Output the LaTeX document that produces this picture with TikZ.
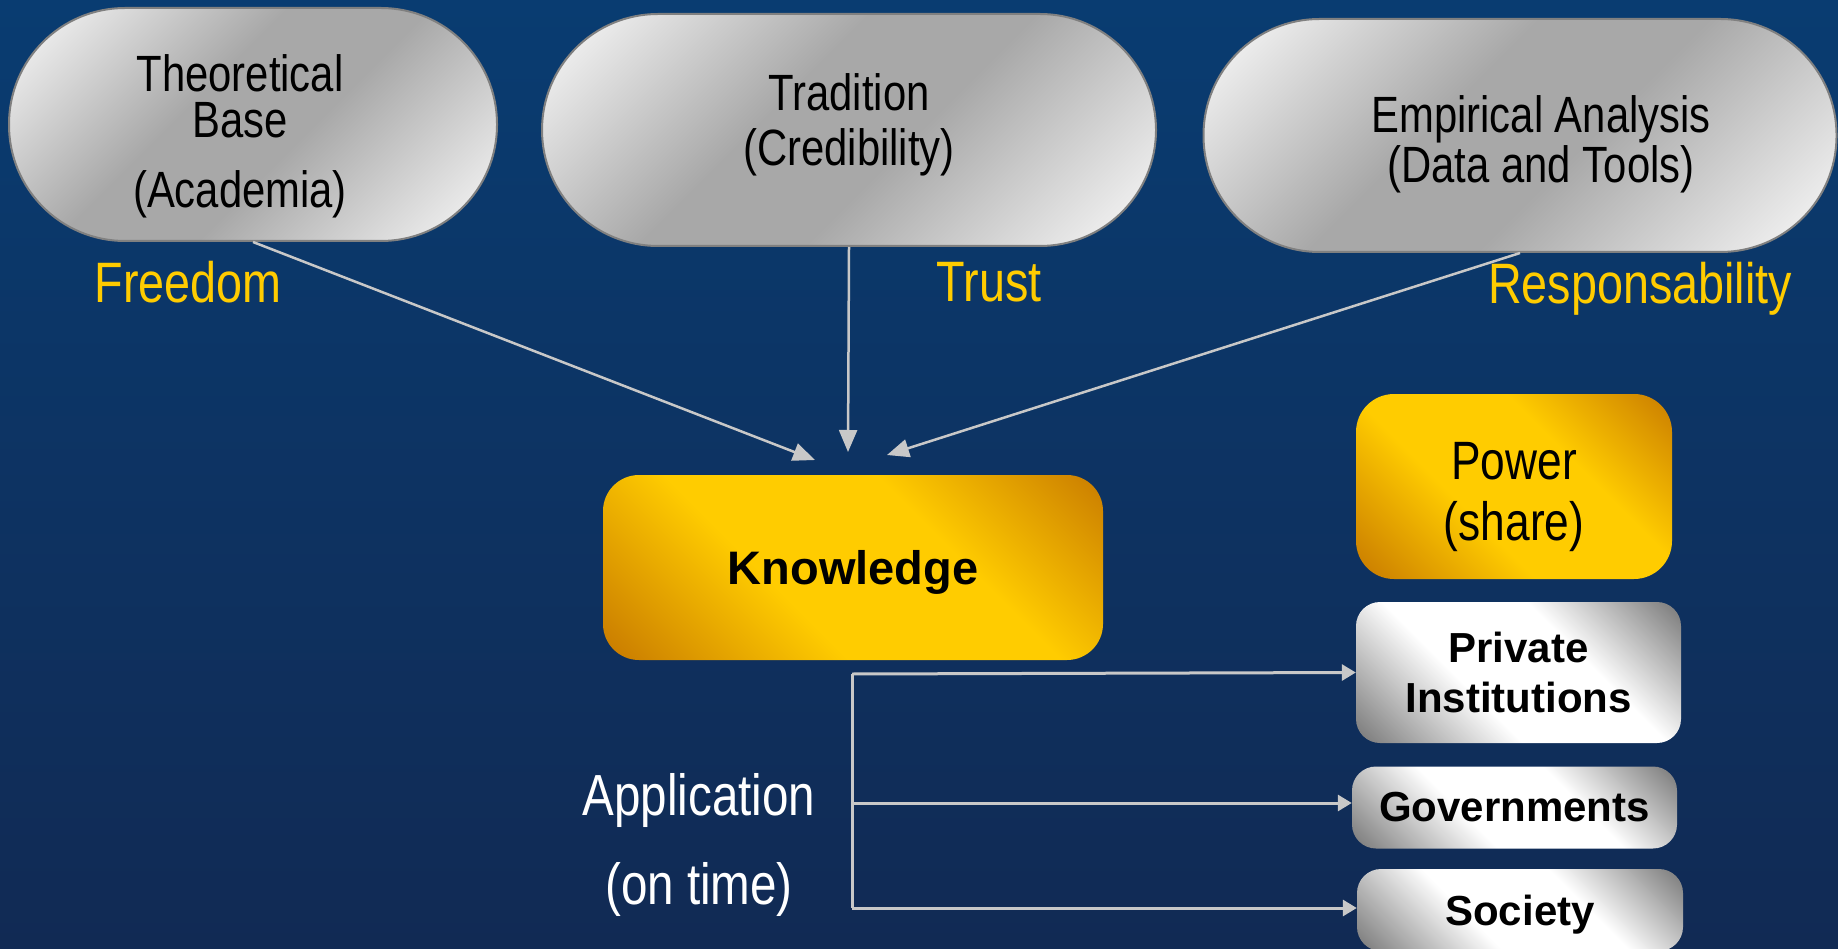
\documentclass[tikz,border=0pt]{standalone}
\usepackage{fontspec}
\setmainfont{Liberation Sans}
\newfontfamily\narrowf{Liberation Sans}[FakeStretch=0.82]
\usetikzlibrary{arrows.meta}
\definecolor{bgtop}{RGB}{9,60,113}
\definecolor{bgbot}{RGB}{17,42,84}
\definecolor{silverd}{RGB}{168,168,168}
\definecolor{silverl}{RGB}{248,248,248}
\definecolor{goldy}{RGB}{255,204,0}
\definecolor{goldb}{RGB}{200,122,0}
\definecolor{grayw}{RGB}{115,115,115}
\definecolor{arrowc}{RGB}{200,200,200}
\definecolor{yel}{RGB}{255,204,0}
\definecolor{pillline}{RGB}{128,128,128}
\pgfdeclarehorizontalshading{silvershade}{100bp}{color(0bp)=(white); color(16bp)=(silverl); color(42bp)=(silverd); color(56bp)=(silverd); color(84bp)=(silverl); color(100bp)=(white)}
\pgfdeclarehorizontalshading{goldshade}{100bp}{color(0bp)=(goldb); color(15bp)=(goldb); color(40bp)=(goldy); color(62bp)=(goldy); color(86bp)=(goldb); color(100bp)=(goldb)}
\pgfdeclarehorizontalshading{whiteshade}{100bp}{color(0bp)=(grayw); color(14bp)=(grayw); color(40bp)=(white); color(62bp)=(white); color(86bp)=(grayw); color(100bp)=(grayw)}
\tikzset{
  pill/.style={draw=pillline, line width=2pt, shading=silvershade, shading angle=-45, inner sep=0pt},
  goldbox/.style={shading=goldshade, shading angle=45, inner sep=0pt},
  whitebox/.style={shading=whiteshade, shading angle=45, inner sep=0pt, rounded corners=24pt},
  pilltext/.style={font=\narrowf\fontsize{51}{52}\selectfont, align=center, text=black},
  keyword/.style={font=\narrowf\fontsize{57}{60}\selectfont, text=yel},
  boldtext/.style={font=\bfseries\fontsize{42}{50}\selectfont, align=center, text=black},
  arr/.style={draw=arrowc, line width=2.5pt, -{Triangle[length=22pt,width=18pt]}},
  conn/.style={draw=arrowc, line width=3pt},
  connarr/.style={draw=arrowc, line width=3pt, -{Triangle[length=14pt,width=16pt]}}
}
\begin{document}
\begin{tikzpicture}[x=1pt,y=-1pt]
\useasboundingbox (0,0) rectangle (1838,949);
\shade[top color=bgtop, bottom color=bgbot] (0,0) rectangle (1838,949);

% pills
\node[pill, minimum width=488pt, minimum height=233pt, rounded corners=116pt] (p1) at (253,124.5) {};
\node[pill, minimum width=614pt, minimum height=232pt, rounded corners=116pt] (p2) at (849,130) {};
\node[pill, minimum width=633pt, minimum height=233pt, rounded corners=116pt] (p3) at (1520,135.5) {};
\node[pilltext, font=\narrowf\fontsize{51}{46}\selectfont] (p1t) at (240,136) {Theoretical\\Base\\[24pt](Academia)};
\node[pilltext, font=\narrowf\fontsize{51}{55}\selectfont] (p2t) at (849,125) {Tradition\\(Credibility)};
\node[pilltext, font=\narrowf\fontsize{51}{50}\selectfont] (p3t) at (1541,144) {Empirical Analysis\\(Data and Tools)};

% keywords
\node[keyword] (free) at (188,282) {Freedom};
\node[keyword] (trust) at (989,282) {Trust};
\node[keyword] (resp) at (1640,289) {Responsability};

% central boxes
\node[goldbox, minimum width=500pt, minimum height=185pt, rounded corners=36pt] (know) at (853,567.5) {};
\node[font=\bfseries\fontsize{47}{50}\selectfont, text=black] (knowt) at (853,572) {Knowledge};
\node[goldbox, minimum width=316pt, minimum height=185pt, rounded corners=38pt] (power) at (1514,486.5) {};
\node[font=\narrowf\fontsize{54}{61}\selectfont, align=center, text=black] (powert) at (1514,497) {Power\\(share)};

% recipients
\node[whitebox, minimum width=325pt, minimum height=141pt] (priv) at (1518.5,672.5) {};
\node[boldtext] (privt) at (1518.5,672) {Private\\Institutions};
\node[whitebox, minimum width=325pt, minimum height=82pt, boldtext] (gov) at (1514.5,807.5) {Governments};
\node[whitebox, minimum width=326pt, minimum height=82pt] (soc) at (1520,910) {};
\node[boldtext] (soct) at (1520,915) {Society};

% application label
\node[font=\narrowf\fontsize{58}{89}\selectfont, align=center, text=white] (app) at (699,845) {Application\\(on time)};

% arrows into knowledge
\coordinate (k1) at (815,460);
\coordinate (k2) at (848,452);
\coordinate (k3) at (887,455);
\draw[arr] (p1.south) -- (k1);
\draw[arr] (p2.south) -- (k2);
\draw[arr] (p3.south) -- (k3);

% application branches
\coordinate (b1) at (852,674);
\coordinate (bg) at (852,803);
\coordinate (b2) at (852,908);
\draw[conn] (b1) -- (b2);
\draw[connarr] (b1) -- (priv.west);
\draw[connarr] (bg) -- (bg -| gov.west);
\draw[connarr] (b2) -- (b2 -| soc.west);
\end{tikzpicture}
\end{document}
